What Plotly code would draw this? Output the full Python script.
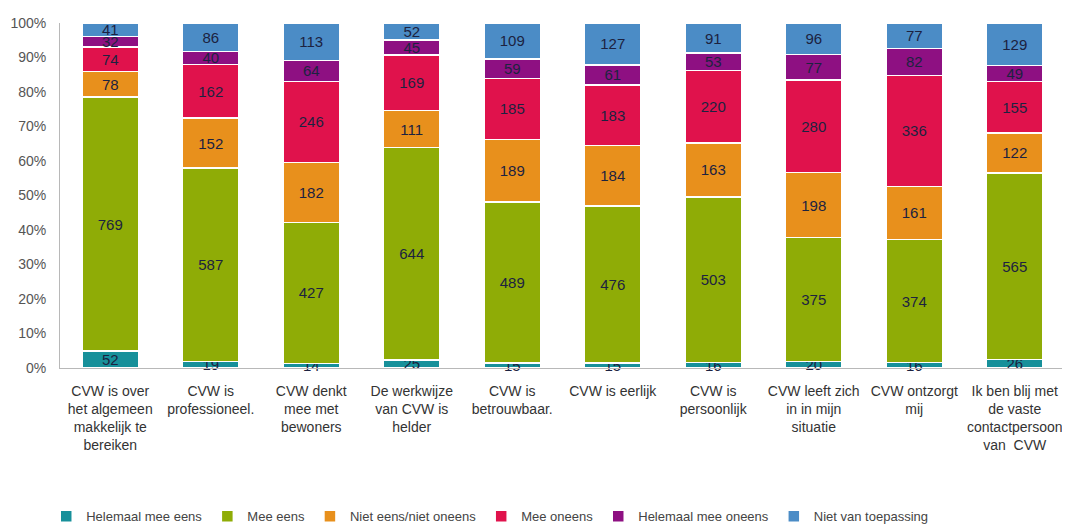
import plotly.graph_objects as go

categories = [
    "CVW is over<br>het algemeen<br>makkelijk te<br>bereiken",
    "CVW is<br>professioneel.",
    "CVW denkt<br>mee met<br>bewoners",
    "De werkwijze<br>van CVW is<br>helder",
    "CVW is<br>betrouwbaar.",
    "CVW is eerlijk",
    "CVW is<br>persoonlijk",
    "CVW leeft zich<br>in in mijn<br>situatie",
    "CVW ontzorgt<br>mij",
    "Ik ben blij met<br>de vaste<br>contactpersoon<br>van  CVW",
]

helemaal_mee_eens = [52, 19, 14, 25, 15, 15, 16, 20, 16, 26]
mee_eens = [769, 587, 427, 644, 489, 476, 503, 375, 374, 565]
niet_eens_niet_oneens = [78, 152, 182, 111, 189, 184, 163, 198, 161, 122]
mee_oneens = [74, 162, 246, 169, 185, 183, 220, 280, 336, 155]
helemaal_mee_oneens = [32, 40, 64, 45, 59, 61, 53, 77, 82, 49]
niet_van_toepassing = [41, 86, 113, 52, 109, 127, 91, 96, 77, 129]

series = [
    ("Helemaal mee eens", helemaal_mee_eens, "#17909a"),
    ("Mee eens", mee_eens, "#8fac06"),
    ("Niet eens/niet oneens", niet_eens_niet_oneens, "#e8901c"),
    ("Mee oneens", mee_oneens, "#e0124c"),
    ("Helemaal mee oneens", helemaal_mee_oneens, "#8e1082"),
    ("Niet van toepassing", niet_van_toepassing, "#4b8cc6"),
]

FONT = "Liberation Sans Narrow, Arial Narrow, Liberation Sans, Arial, sans-serif"

fig = go.Figure()
for name, vals, col in series:
    fig.add_trace(go.Bar(
        name=name,
        x=categories,
        y=vals,
        text=[str(v) for v in vals],
        textposition="inside",
        insidetextanchor="middle",
        textangle=0,
        constraintext="none",
        cliponaxis=False,
        textfont=dict(family=FONT, size=15, color="#1c2240"),
        marker=dict(color=col, line=dict(color="#ffffff", width=1.5)),
    ))

# the page body has an 8px default margin, so the figure is sized to fit the window
fig.update_layout(
    barmode="stack",
    barnorm="percent",
    bargap=0.44,
    width=1062,
    height=523,
    margin=dict(l=52, r=5, t=15, b=163),
    paper_bgcolor="white",
    plot_bgcolor="white",
    font=dict(family=FONT, size=14, color="#333333"),
    uniformtext=dict(minsize=15, mode="show"),
    legend=dict(
        orientation="h",
        xref="container", yref="container",
        x=0.036, xanchor="left",
        y=0.028, yanchor="middle",
        font=dict(family=FONT, size=13, color="#444444"),
        itemwidth=30,
        traceorder="normal",
    ),
    xaxis=dict(
        showline=True, linecolor="#b8b8b8", linewidth=1,
        ticks="", tickfont=dict(family=FONT, size=14, color="#333333"),
        ticklabelstandoff=10, automargin=False,
    ),
    yaxis=dict(
        range=[0, 100], dtick=10, ticksuffix="%",
        showgrid=False, showline=True, linecolor="#b8b8b8", linewidth=1,
        ticks="", tickfont=dict(family=FONT, size=14, color="#555555"),
        zeroline=False, automargin=False,
        ticklabelstandoff=10,
    ),
)

fig.write_html("out.html")
